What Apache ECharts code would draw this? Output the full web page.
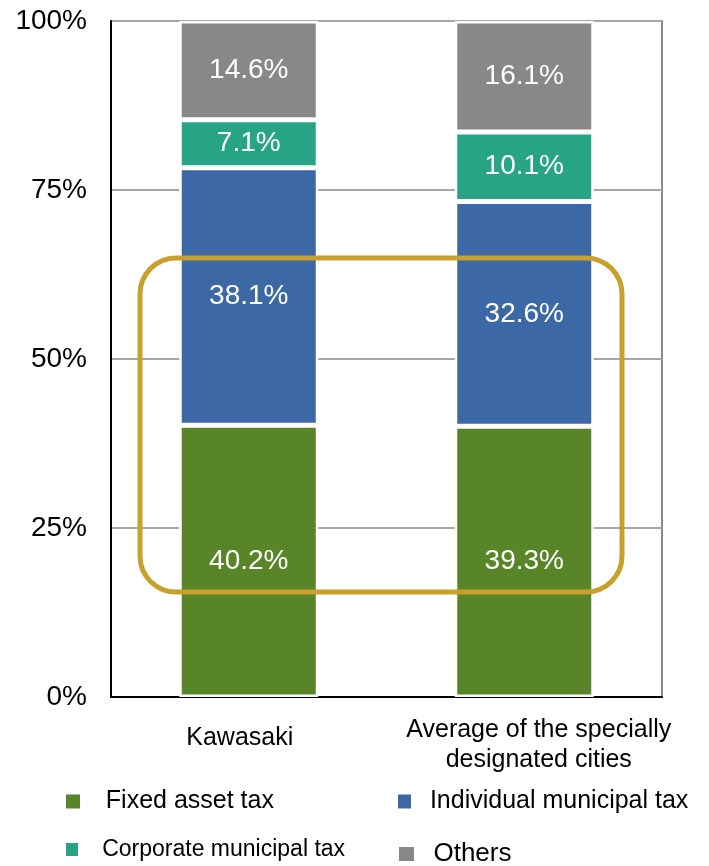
<!DOCTYPE html>
<html>
<head>
<meta charset="utf-8">
<script src="https://cdn.jsdelivr.net/npm/echarts@6/dist/echarts.min.js"></script>
<style>
  html, body { margin: 0; padding: 0; background: #fff; }
  #chart { width: 709px; height: 866px; }
</style>
</head>
<body>
<div id="chart"></div>
<script>
// Municipal tax revenue composition (%)
const categories = ['Kawasaki', 'Average of the specially\ndesignated cities'];
const fixedAssetTax = [40.2, 39.3];
const individualMunicipalTax = [38.1, 32.6];
const corporateMunicipalTax = [7.1, 10.1];
const others = [14.6, 16.1];
const yTickMin = 0, yTickMax = 100, yTickStep = 25;

const seriesDefs = [
  { name: 'Fixed asset tax', values: fixedAssetTax, color: '#578527' },
  { name: 'Individual municipal tax', values: individualMunicipalTax, color: '#3D68A6' },
  { name: 'Corporate municipal tax', values: corporateMunicipalTax, color: '#27A386' },
  { name: 'Others', values: others, color: '#888888' }
];

// Each column is stacked as a share of its own total (100% stacked)
const totals = categories.map((_, i) => seriesDefs.reduce((s, d) => s + d.values[i], 0));

const FONT = '"Liberation Sans", Arial, sans-serif';

const series = seriesDefs.map(d => ({
  name: d.name,
  type: 'bar',
  stack: 'share',
  barWidth: 139,
  itemStyle: { color: d.color, borderColor: '#fff', borderWidth: 2.5 },
  label: {
    show: true,
    position: 'inside',
    color: '#fff',
    fontSize: 28,
    fontFamily: FONT,
    formatter: p => p.data.raw.toFixed(1) + '%'
  },
  data: d.values.map((v, i) => ({ value: v / totals[i] * 100, raw: v }))
}));

function legendAt(name, left, top, fontSize, pad, w, h) {
  return {
    data: [name],
    left: left, top: top,
    padding: 0,
    icon: 'rect',
    itemWidth: w, itemHeight: h,
    itemStyle: { borderWidth: 0 },
    selectedMode: false,
    formatter: n => pad + n,
    textStyle: { color: '#000', fontSize: fontSize, fontFamily: FONT }
  };
}

const chart = echarts.init(document.getElementById('chart'), null, { renderer: 'canvas' });
chart.setOption({
  animation: false,
  backgroundColor: '#fff',
  grid: {
    left: 111, right: 47, top: 21, bottom: 169,
    show: true, borderColor: '#8C8C8C', borderWidth: 2
  },
  xAxis: {
    type: 'category',
    data: [
      { value: categories[0], textStyle: { padding: [8, 18, 0, 0] } },
      { value: categories[1], textStyle: { padding: [0, 0, 0, 29] } }
    ],
    axisLine: { show: true, lineStyle: { color: '#000', width: 2 } },
    axisTick: { show: false },
    axisLabel: {
      interval: 0, hideOverlap: false,
      margin: 18, color: '#000', fontSize: 25, lineHeight: 30, fontFamily: FONT
    }
  },
  yAxis: {
    type: 'value',
    min: yTickMin, max: yTickMax, interval: yTickStep,
    axisLine: { show: true, lineStyle: { color: '#000', width: 2 } },
    axisTick: { show: false },
    axisLabel: { formatter: '{value}%', margin: 24, color: '#000', fontSize: 28, fontFamily: FONT },
    splitLine: { show: true, lineStyle: { color: '#A6A6A6', width: 2 } }
  },
  legend: [
    legendAt('Fixed asset tax', 66, 789, 25, '   ', 14, 14),
    legendAt('Individual municipal tax', 398, 789, 25, '  ', 13, 14),
    legendAt('Corporate municipal tax', 66, 838, 23, '   ', 12, 13),
    legendAt('Others', 399, 841, 26, '  ', 15, 14)
  ],
  series: series,
  graphic: [{
    type: 'rect',
    z: 100,
    shape: { x: 140, y: 258, width: 482, height: 334, r: 36 },
    style: { fill: 'none', stroke: '#C9A02C', lineWidth: 5 }
  }]
});
</script>
</body>
</html>
